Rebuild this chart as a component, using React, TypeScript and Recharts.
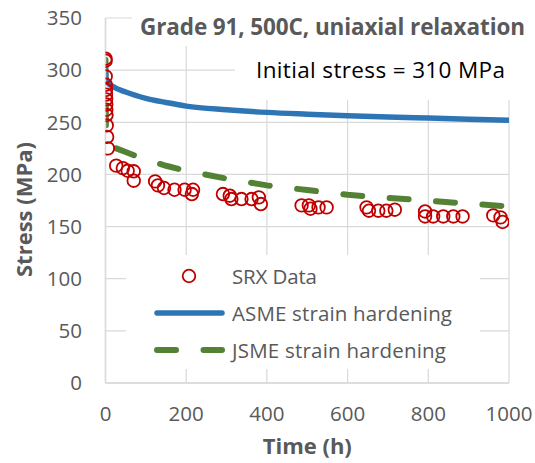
import React from 'react';
import { ComposedChart, Line, Scatter, XAxis, YAxis, CartesianGrid, Legend, Label } from 'recharts';

// SRX measured relaxation data
const srxTime = [
  0, 0.3, 0.5, 0.8, 1, 1.2, 1.5, 1.8, 2, 2.5, 3, 4, 6,
  26.5, 43, 55, 70, 70,
  123, 130, 145, 171, 196, 217, 214,
  291, 308, 312, 337, 362, 380, 385,
  486, 504, 508, 528, 548,
  647, 653, 676, 696, 717,
  792, 792, 812, 837, 862, 885,
  961, 979, 984,
];
const srxStress = [
  311, 309, 294, 286, 281, 276.5, 272, 267, 262, 257, 247, 236, 225,
  208.4, 206, 203.5, 203, 194,
  193.3, 189.5, 187, 185.3, 185.3, 185.3, 181.2,
  181.2, 179.6, 176.4, 176.4, 176.4, 178, 171.6,
  170.3, 170.3, 167.1, 168.4, 168.4,
  168.4, 165.2, 165.2, 165.2, 166.2,
  164.5, 159.7, 159.7, 159.7, 159.7, 159.7,
  160.7, 158.8, 154.4,
];

// ASME strain hardening model
const asmeTime = [0, 1, 5, 20, 50, 100, 150, 200, 300, 400, 500, 600, 700, 800, 900, 1000];
const asmeStress = [300, 291, 288, 284, 279, 273, 269, 265.5, 262, 259.5, 257.8, 256.3, 255, 254, 253, 252];

// JSME strain hardening model
const jsmeTime = [0, 1, 5, 20, 50, 100, 150, 200, 300, 400, 500, 600, 700, 800, 900, 1000];
const jsmeStress = [310, 245, 232, 226, 221.5, 214, 208.3, 203.5, 196, 189.5, 185, 180.5, 177.5, 174.8, 172, 169.3];

const xTicks = [0, 200, 400, 600, 800, 1000];
const yTicks = [0, 50, 100, 150, 200, 250, 300, 350];

const chartTitle = 'Grade 91, 500C, uniaxial relaxation';
const annotation = 'Initial stress = 310 MPa';
const xTitle = 'Time (h)';
const yTitle = 'Stress (MPa)';
const srxName = 'SRX Data';
const asmeName = 'ASME strain hardening';
const jsmeName = 'JSME strain hardening';

const srxData = srxTime.map((t, i) => ({ time: t, stress: srxStress[i] }));
const asmeData = asmeTime.map((t, i) => ({ time: t, stress: asmeStress[i] }));
const jsmeData = jsmeTime.map((t, i) => ({ time: t, stress: jsmeStress[i] }));

const FONT = '"Open Sans", "DejaVu Sans", sans-serif';
const GRAY = '#595959';
const GRID = '#D9D9D9';
const RED = '#C00000';
const BLUE = '#2E75B6';
const GREEN = '#548235';

const CircleShape = (props: any) => {
  const { cx, cy } = props;
  if (cx == null || cy == null) return <g />;
  return <circle cx={cx} cy={cy} r={6.3} fill="none" stroke={RED} strokeWidth={1.8} />;
};

const LegendContent = () => (
  <svg width={354} height={114} style={{ display: 'block', background: '#fff' }}>
    <circle cx={63} cy={21} r={6.3} fill="none" stroke={RED} strokeWidth={1.8} />
    <text x={106} y={21} dominantBaseline="central" fontFamily={FONT} fontSize={20.5} fill={GRAY} textLength={85}>
      {srxName}
    </text>
    <line x1={31} x2={96} y1={58} y2={58} stroke={BLUE} strokeWidth={5.5} strokeLinecap="round" />
    <text x={106} y={58} dominantBaseline="central" fontFamily={FONT} fontSize={20.5} fill={GRAY} textLength={220}>
      {asmeName}
    </text>
    <line x1={31} x2={96} y1={95} y2={95} stroke={GREEN} strokeWidth={6} strokeLinecap="round" strokeDasharray="19 27.5" />
    <text x={106} y={95} dominantBaseline="central" fontFamily={FONT} fontSize={20.5} fill={GRAY} textLength={214}>
      {jsmeName}
    </text>
  </svg>
);

const XTitle = (props: any) => {
  const vb = props.viewBox || {};
  const cx = vb.x + vb.width / 2;
  const y = vb.y + vb.height - 9;
  return (
    <text x={cx} y={y} textAnchor="middle" fontFamily={FONT} fontWeight={700} fontSize={22} fill={GRAY}>
      {xTitle}
    </text>
  );
};

const YTitle = (props: any) => {
  const vb = props.viewBox || {};
  const cx = vb.x + 23;
  const cy = vb.y + vb.height / 2 + 9;
  return (
    <text
      x={cx}
      y={cy}
      transform={`rotate(-90 ${cx} ${cy})`}
      textAnchor="middle"
      dominantBaseline="central"
      fontFamily={FONT}
      fontWeight={700}
      fontSize={22}
      fill={GRAY}
    >
      {yTitle}
    </text>
  );
};

export default function App() {
  return (
    <div style={{ position: 'absolute', left: 0, top: 0, width: 535, height: 463, background: '#fff', fontFamily: FONT }}>
      <ComposedChart width={535} height={463} margin={{ top: 18, right: 26, bottom: 0, left: 0 }}>
        <CartesianGrid stroke={GRID} strokeWidth={1.2} />
        <XAxis
          type="number"
          dataKey="time"
          domain={[0, 1000]}
          ticks={xTicks}
          interval={0}
          height={80}
          tickLine={false}
          tickSize={0}
          tickMargin={23}
          axisLine={{ stroke: GRID, strokeWidth: 1.5 }}
          tick={{ fill: GRAY, fontSize: 20.5, fontFamily: FONT }}
          allowDataOverflow
        >
          <Label content={<XTitle />} />
        </XAxis>
        <YAxis
          type="number"
          domain={[0, 350]}
          ticks={yTicks}
          interval={0}
          width={105.5}
          tickLine={false}
          tickSize={0}
          tickMargin={23.5}
          axisLine={{ stroke: GRID, strokeWidth: 1.5 }}
          tick={{ fill: GRAY, fontSize: 20.5, fontFamily: FONT }}
          allowDataOverflow
        >
          <Label content={<YTitle />} />
        </YAxis>
        <Legend
          layout="vertical"
          align="center"
          verticalAlign="middle"
          width={354}
          height={114}
          wrapperStyle={{ left: 126, top: 255, width: 354, height: 114, background: '#fff' }}
          content={<LegendContent />}
        />
        <Line
          data={jsmeData}
          dataKey="stress"
          name={jsmeName}
          type="linear"
          stroke={GREEN}
          strokeWidth={6}
          strokeDasharray="19 27.5"
          strokeLinecap="round"
          dot={false}
          activeDot={false}
          isAnimationActive={false}
        />
        <Line
          data={asmeData}
          dataKey="stress"
          name={asmeName}
          type="monotone"
          stroke={BLUE}
          strokeWidth={5.5}
          strokeLinecap="round"
          dot={false}
          activeDot={false}
          isAnimationActive={false}
        />
        <Scatter data={srxData} dataKey="stress" name={srxName} shape={<CircleShape />} isAnimationActive={false} />
      </ComposedChart>
      <svg width={403} height={46} style={{ position: 'absolute', left: 132, top: 0 }}>
        <rect x={0} y={0} width={403} height={46} fill="#fff" />
        <text x={8} y={35} fontFamily={FONT} fontWeight={700} fontSize={22.5} fill={GRAY} textLength={385}>
          {chartTitle}
        </text>
      </svg>
      <svg width={300} height={54} style={{ position: 'absolute', left: 235, top: 46 }}>
        <rect x={0} y={0} width={300} height={54} fill="#fff" />
        <text x={21} y={32.3} fontFamily={FONT} fontSize={22.5} fill="#000" textLength={249}>
          {annotation}
        </text>
      </svg>
    </div>
  );
}
